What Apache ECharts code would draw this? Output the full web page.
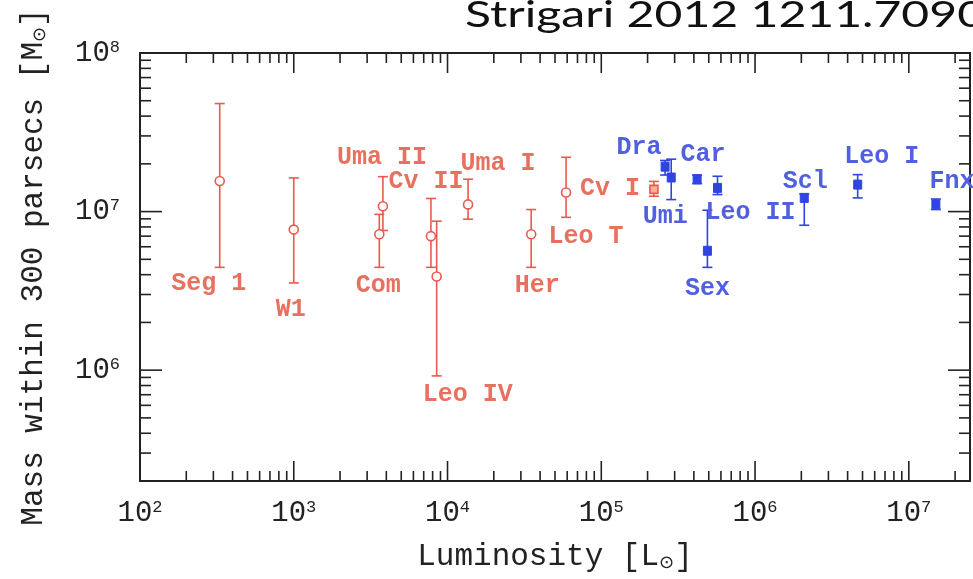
<!DOCTYPE html>
<html>
<head>
<meta charset="utf-8">
<script src="https://cdn.jsdelivr.net/npm/echarts@6/dist/echarts.min.js"></script>
<style>
  html, body { margin: 0; padding: 0; background: #ffffff; }
  #chart { width: 973px; height: 579px; }
</style>
</head>
<body>
<div id="chart"></div>
<script>
// Milky Way dwarf satellites: total luminosity vs. dynamical mass inside 300 pc.

// Ultra-faint satellites (red)
const faintNames   = ['Seg 1', 'W1', 'Uma II', 'Com', 'Cv II', 'Leo IV', 'Uma I', 'Her', 'Leo T', 'Cv I'];
const faintLum     = [330, 1000, 3800, 3600, 7800, 8500, 13600, 35000, 59000, 220000];
const faintMass    = [1.56e7, 7.7e6, 1.08e7, 7.2e6, 7.0e6, 3.9e6, 1.11e7, 7.2e6, 1.32e7, 1.38e7];
const faintMassLo  = [4.45e6, 3.55e6, 7.6e6, 4.45e6, 4.45e6, 9.2e5, 8.95e6, 4.45e6, 9.2e6, 1.25e7];
const faintMassHi  = [4.8e7, 1.63e7, 1.66e7, 9.6e6, 1.21e7, 8.7e6, 1.6e7, 1.03e7, 2.2e7, 1.55e7];

// Classical dwarf spheroidals (blue)
const brightNames  = ['Dra', 'Umi', 'Car', 'Sex', 'Leo II', 'Scl', 'Leo I', 'Fnx'];
const brightLum    = [2.6e5, 2.85e5, 4.2e5, 4.9e5, 5.7e5, 2.09e6, 4.65e6, 1.5e7];
const brightMass   = [1.92e7, 1.64e7, 1.6e7, 5.66e6, 1.41e7, 1.22e7, 1.48e7, 1.11e7];
const brightMassLo = [1.7e7, 1.19e7, 1.5e7, 4.45e6, 1.28e7, 8.2e6, 1.22e7, 1.03e7];
const brightMassHi = [2.1e7, 2.14e7, 1.7e7, 1.02e7, 1.67e7, 1.29e7, 1.71e7, 1.2e7];

// Axis ranges and tick values
const lumRange   = [100, 2.5e7];
const massRange  = [2e5, 1e8];
const lumMajorTicks  = [1e2, 1e3, 1e4, 1e5, 1e6, 1e7];
const lumMinorTicks  = [2e2,3e2,4e2,5e2,6e2,7e2,8e2,9e2, 2e3,3e3,4e3,5e3,6e3,7e3,8e3,9e3,
                        2e4,3e4,4e4,5e4,6e4,7e4,8e4,9e4, 2e5,3e5,4e5,5e5,6e5,7e5,8e5,9e5,
                        2e6,3e6,4e6,5e6,6e6,7e6,8e6,9e6, 2e7];
const massMajorTicks = [1e6, 1e7, 1e8];
const massMinorTicks = [3e5,4e5,5e5,6e5,7e5,8e5,9e5, 2e6,3e6,4e6,5e6,6e6,7e6,8e6,9e6,
                        2e7,3e7,4e7,5e7,6e7,7e7,8e7,9e7];

// Label placement relative to each point (pixels)
const labelShift = {
  'Seg 1': [-11, 103], 'W1': [-3, 80], 'Uma II': [-1, -49], 'Com': [-1, 52],
  'Cv II': [-5, -54], 'Leo IV': [31, 118], 'Uma I': [30, -41], 'Her': [6, 52],
  'Leo T': [20, 44], 'Cv I': [-44, -1],
  'Dra': [-26, -19], 'Umi': [-6, 39], 'Car': [6, -25], 'Sex': [0, 38],
  'Leo II': [33, 25], 'Scl': [1, -16], 'Leo I': [24, -28], 'Fnx': [16, -23]
};

const RED = '#e85a4e', RED_TEXT = '#e8705f';
const BLUE = '#3044e2', BLUE_TEXT = '#5060e0';
const AXIS_COLOR = '#222';
const MONO = '"Liberation Mono", "DejaVu Sans Mono", monospace';

function rows(lum, mass, lo, hi) {
  return lum.map((l, i) => [l, mass[i], lo[i], hi[i]]);
}

function errorBarRenderer(names, color, textColor, filled) {
  return function (params, api) {
    const x = api.value(0);
    const c = api.coord([x, api.value(1)]);
    const lo = api.coord([x, api.value(2)]);
    const hi = api.coord([x, api.value(3)]);
    const name = names[params.dataIndex];
    const cap = 5;
    const children = [
      { type: 'line', shape: { x1: c[0], y1: lo[1], x2: c[0], y2: hi[1] },
        style: { stroke: color, lineWidth: 1.6 } },
      { type: 'line', shape: { x1: c[0] - cap, y1: lo[1], x2: c[0] + cap, y2: lo[1] },
        style: { stroke: color, lineWidth: 1.6 } },
      { type: 'line', shape: { x1: c[0] - cap, y1: hi[1], x2: c[0] + cap, y2: hi[1] },
        style: { stroke: color, lineWidth: 1.6 } }
    ];
    if (filled) {
      children.push({ type: 'rect', shape: { x: c[0] - 4, y: c[1] - 4.5, width: 8, height: 9 },
        style: { fill: color, stroke: color, lineWidth: 1 } });
    } else if (name === 'Cv I') {
      children.push({ type: 'rect', shape: { x: c[0] - 4, y: c[1] - 4, width: 8, height: 8 },
        style: { fill: '#f6b09a', stroke: color, lineWidth: 1.6 } });
    } else {
      children.push({ type: 'circle', shape: { cx: c[0], cy: c[1], r: 4.5 },
        style: { fill: '#ffffff', stroke: color, lineWidth: 1.6 } });
    }
    const s = labelShift[name] || [0, -20];
    children.push({ type: 'text', x: c[0] + s[0], y: c[1] + s[1],
      style: { text: name, fill: textColor, font: 'bold 25px ' + MONO,
               align: 'center', verticalAlign: 'middle' } });
    return { type: 'group', children: children };
  };
}

// Tick marks drawn on all four sides of the frame
function tickRenderer(vertical, len) {
  return function (params, api) {
    const style = { stroke: AXIS_COLOR, lineWidth: 1.6 };
    if (vertical) {
      const b = api.coord([api.value(0), massRange[0]]);
      const t = api.coord([api.value(0), massRange[1]]);
      return { type: 'group', children: [
        { type: 'line', shape: { x1: b[0], y1: b[1], x2: b[0], y2: b[1] - len }, style: style },
        { type: 'line', shape: { x1: t[0], y1: t[1], x2: t[0], y2: t[1] + len }, style: style }
      ] };
    }
    const l = api.coord([lumRange[0], api.value(1)]);
    const r = api.coord([lumRange[1], api.value(1)]);
    return { type: 'group', children: [
      { type: 'line', shape: { x1: l[0], y1: l[1], x2: l[0] + len, y2: l[1] }, style: style },
      { type: 'line', shape: { x1: r[0], y1: r[1], x2: r[0] - len, y2: r[1] }, style: style }
    ] };
  };
}

function powerLabel(v) {
  const e = Math.log10(v);
  const r = Math.round(e);
  if (Math.abs(e - r) > 1e-6) return '';
  return '10{s|' + r + '}';
}

const tickLabelStyle = {
  fontFamily: MONO, fontSize: 29, color: AXIS_COLOR,
  formatter: powerLabel,
  rich: { s: { fontFamily: MONO, fontSize: 17, color: AXIS_COLOR, verticalAlign: 'top' } }
};

const axisNameStyle = {
  fontFamily: MONO, fontSize: 31, color: AXIS_COLOR,
  rich: { sub: { fontFamily: '"DejaVu Sans", sans-serif', fontSize: 18, color: AXIS_COLOR, verticalAlign: 'bottom' } }
};

const chart = echarts.init(document.getElementById('chart'), null, { renderer: 'canvas' });

chart.setOption({
  backgroundColor: '#ffffff',
  animation: false,
  graphic: [{
    type: 'text', x: 465, y: 15, scaleX: 1.3, silent: true,
    style: {
      text: 'Strigari 2012 1211.7090',
      font: '37px Lato, "Open Sans", sans-serif',
      fill: '#111', align: 'left', verticalAlign: 'middle'
    }
  }],
  grid: {
    left: 140, right: 3, top: 53, bottom: 98,
    show: true, borderColor: AXIS_COLOR, borderWidth: 2, backgroundColor: 'transparent'
  },
  xAxis: {
    type: 'log', logBase: 10, min: lumRange[0], max: lumRange[1],
    axisLine: { show: false }, axisTick: { show: false }, splitLine: { show: false },
    axisLabel: Object.assign({ margin: 18 }, tickLabelStyle),
    name: 'Luminosity [L{sub|⊙}]',
    nameLocation: 'middle', nameGap: 60,
    nameTextStyle: axisNameStyle
  },
  yAxis: {
    type: 'log', logBase: 10, min: massRange[0], max: massRange[1],
    axisLine: { show: false }, axisTick: { show: false }, splitLine: { show: false },
    axisLabel: Object.assign({ margin: 20 }, tickLabelStyle),
    name: 'Mass within 300 parsecs [M{sub|⊙}]',
    nameLocation: 'middle', nameGap: 91, nameRotate: 90,
    nameTextStyle: axisNameStyle
  },
  series: [
    { type: 'custom', silent: true, clip: false, renderItem: tickRenderer(true, 20),
      data: lumMajorTicks.map(v => [v, massRange[0]]) },
    { type: 'custom', silent: true, clip: false, renderItem: tickRenderer(true, 10),
      data: lumMinorTicks.map(v => [v, massRange[0]]) },
    { type: 'custom', silent: true, clip: false, renderItem: tickRenderer(false, 22),
      data: massMajorTicks.map(v => [lumRange[0], v]) },
    { type: 'custom', silent: true, clip: false, renderItem: tickRenderer(false, 11),
      data: massMinorTicks.map(v => [lumRange[0], v]) },
    { type: 'custom', name: 'ultra-faint', clip: false,
      renderItem: errorBarRenderer(faintNames, RED, RED_TEXT, false),
      encode: { x: 0, y: 1 },
      data: rows(faintLum, faintMass, faintMassLo, faintMassHi) },
    { type: 'custom', name: 'classical', clip: false,
      renderItem: errorBarRenderer(brightNames, BLUE, BLUE_TEXT, true),
      encode: { x: 0, y: 1 },
      data: rows(brightLum, brightMass, brightMassLo, brightMassHi) }
  ]
});
</script>
</body>
</html>
